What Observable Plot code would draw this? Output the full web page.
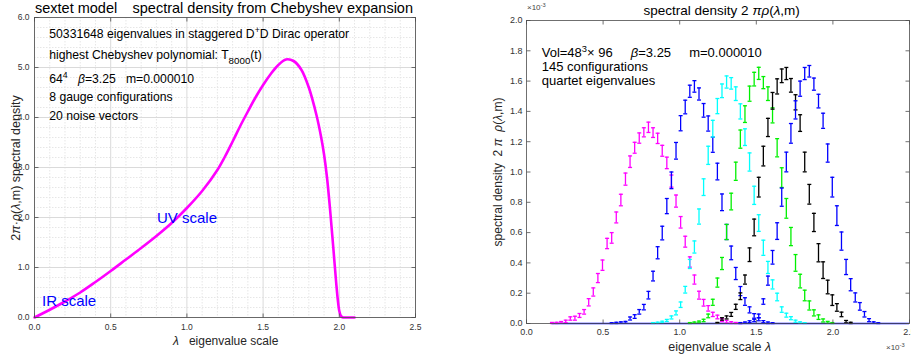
<!DOCTYPE html>
<html><head><meta charset="utf-8">
<script src="https://cdn.jsdelivr.net/npm/d3@7"></script>
<script src="https://cdn.jsdelivr.net/npm/@observablehq/plot@0.6"></script>
<style>
body{margin:0;background:#fff;}
#wrap{position:relative;width:911px;height:363px;overflow:hidden;background:#fff;}
#wrap svg{position:absolute;top:0;overflow:hidden;}
</style></head><body><div id="wrap"></div>
<script>
// ---------------- left panel data (Chebyshev spectral density) ----------------
const chebLambda = [0,0.1,0.2,0.3,0.4,0.5,0.6,0.7,0.8,0.9,1.0,1.1,1.2,1.25,1.3,1.35,1.4,1.45,1.5,1.55,1.6,1.65,1.7,1.75,1.8,1.85,1.88,1.9,1.92,1.94,1.96,1.98,1.99,2.0,2.01,2.02,2.05,2.1];
const chebRho    = [0,0.155,0.32,0.5,0.71,0.93,1.16,1.39,1.63,1.89,2.19,2.53,2.95,3.22,3.52,3.83,4.12,4.40,4.65,4.87,5.05,5.16,5.13,4.96,4.6,4.05,3.62,3.26,2.78,2.14,1.42,0.68,0.36,0.13,0.035,0.006,0,0];
const leftXTicks = [0,0.5,1,1.5,2,2.5];
const leftYTicks = [0,1,2,3,4,5,6];
const leftXMinor = [0.1,0.2,0.3,0.4,0.6,0.7,0.8,0.9,1.1,1.2,1.3,1.4,1.6,1.7,1.8,1.9,2.1,2.2,2.3,2.4];
const leftYMinor = [0.2,0.4,0.6,0.8,1.2,1.4,1.6,1.8,2.2,2.4,2.6,2.8,3.2,3.4,3.6,3.8,4.2,4.4,4.6,4.8,5.2,5.4,5.6,5.8];

// ---------------- right panel data (quartet eigenvalue histograms, units 1e-3) ----------------
const binCenters = [0.166,0.196,0.226,0.256,0.286,0.316,0.346,0.376,0.406,0.436,
  0.466,0.496,0.526,0.556,0.586,0.616,0.646,0.676,0.706,0.736,
  0.766,0.796,0.826,0.856,0.886,0.916,0.946,0.976,1.006,1.036,
  1.066,1.096,1.126,1.156,1.186,1.216,1.246,1.276,1.306,1.336,
  1.366,1.396,1.426,1.456,1.486,1.516,1.546,1.576,1.606,1.636,
  1.666,1.696,1.726,1.756,1.786,1.816,1.846,1.876,1.906,1.936,
  1.966,1.996,2.026,2.056,2.086,2.116,2.146,2.176,2.206,2.236,
  2.266,2.296];
const seriesNames  = ["q1","q2","q3","q4","q5","q6"];
const seriesColors = ["#ff00ff","#0000ff","#00ffff","#00f000","#000000","#0000ff"];
const seriesFirstBin = [0,13,22,30,36,41];
const q1Rho = [0.003,0.004,0.008,0.014,0.033,0.035,0.053,0.077,0.14,0.208,0.30,0.385,0.528,0.565,0.70,0.815,0.953,1.068,1.16,1.224,1.262,1.295,1.26,1.222,1.14,1.06,0.94,0.808,0.668,0.54,0.406,0.29,0.187,0.137,0.10,0.06,0.043,0.022,0.012,0.006,0.003,0.001];
const q1Err = [0.004,0.004,0.005,0.008,0.011,0.013,0.013,0.015,0.024,0.027,0.03,0.034,0.034,0.035,0.036,0.038,0.04,0.038,0.036,0.034,0.03,0.034,0.032,0.034,0.036,0.038,0.04,0.04,0.038,0.036,0.034,0.03,0.026,0.022,0.018,0.014,0.012,0.01,0.008,0.006,0.004,0.003];
const q2Rho = [0.002,0.004,0.006,0.008,0.033,0.046,0.077,0.108,0.187,0.313,0.467,0.597,0.775,0.945,1.14,1.322,1.429,1.533,1.565,1.515,1.407,1.32,1.18,1.003,0.80,0.604,0.466,0.33,0.214,0.145,0.09,0.05,0.028,0.012,0.005,0.002];
const q2Err = [0.003,0.004,0.005,0.006,0.01,0.012,0.015,0.018,0.025,0.032,0.04,0.045,0.05,0.055,0.055,0.05,0.045,0.04,0.038,0.04,0.045,0.05,0.05,0.055,0.055,0.05,0.045,0.04,0.03,0.025,0.02,0.015,0.01,0.007,0.005,0.003];
const q3Rho = [0.003,0.005,0.01,0.02,0.04,0.07,0.124,0.223,0.393,0.505,0.706,0.90,1.11,1.286,1.435,1.536,1.594,1.585,1.517,1.40,1.23,1.066,0.846,0.663,0.50,0.37,0.258,0.175,0.092,0.055,0.035,0.015,0.006,0.002];
const q3Err = [0.003,0.004,0.005,0.007,0.01,0.013,0.018,0.022,0.03,0.04,0.05,0.055,0.06,0.055,0.05,0.045,0.04,0.038,0.045,0.05,0.055,0.06,0.06,0.055,0.05,0.04,0.03,0.025,0.018,0.013,0.01,0.007,0.005,0.003];
const q4Rho = [0.003,0.006,0.01,0.02,0.05,0.14,0.27,0.396,0.604,0.805,1.005,1.217,1.382,1.517,1.613,1.651,1.59,1.517,1.374,1.16,0.963,0.76,0.574,0.40,0.28,0.185,0.119,0.07,0.042,0.02,0.008,0.003];
const q4Err = [0.003,0.004,0.006,0.008,0.012,0.02,0.03,0.04,0.05,0.055,0.06,0.06,0.055,0.05,0.045,0.04,0.04,0.045,0.05,0.06,0.065,0.065,0.06,0.055,0.045,0.035,0.03,0.02,0.015,0.01,0.006,0.003];
const q5Rho = [0.004,0.03,0.04,0.06,0.11,0.18,0.29,0.454,0.634,0.90,1.105,1.294,1.47,1.565,1.635,1.65,1.572,1.46,1.323,1.066,0.853,0.667,0.467,0.352,0.241,0.154,0.106,0.06,0.012,0.004];
const q5Err = [0.003,0.008,0.01,0.013,0.017,0.022,0.03,0.045,0.055,0.065,0.065,0.06,0.055,0.05,0.045,0.04,0.045,0.05,0.055,0.065,0.065,0.06,0.06,0.055,0.045,0.035,0.025,0.015,0.008,0.004];
const q6Rho = [0.003,0.006,0.012,0.02,0.05,0.145,0.283,0.437,0.61,0.834,1.066,1.255,1.41,1.55,1.65,1.665,1.58,1.468,1.338,1.125,0.90,0.712,0.544,0.373,0.256,0.172,0.113,0.061,0.022,0.006,0.002];
const q6Err = [0.003,0.004,0.006,0.008,0.012,0.018,0.03,0.045,0.055,0.06,0.065,0.065,0.06,0.05,0.04,0.038,0.04,0.045,0.05,0.06,0.065,0.065,0.06,0.05,0.04,0.03,0.025,0.018,0.01,0.005,0.003];
const rightXTicks = [0,0.5,1,1.5,2,2.5];
const rightYTicks = [0,0.2,0.4,0.6,0.8,1,1.2,1.4,1.6,1.8,2];

// ---------------- helpers ----------------
const FONT = '"Liberation Sans", Arial, Helvetica, sans-serif';
const AX = "#4d4d4d";
const TXT = "#262626";
const tickUp = {draw(c){c.moveTo(0,0);c.lineTo(0,-4);}};
const tickDown = {draw(c){c.moveTo(0,0);c.lineTo(0,4);}};
const tickRight = {draw(c){c.moveTo(0,0);c.lineTo(4,0);}};
const tickLeft = {draw(c){c.moveTo(0,0);c.lineTo(-4,0);}};
const capSym = {draw(c){c.moveTo(-2,0);c.lineTo(2,0);}};

function boxTicks(xt, yt) {
  const o = {stroke: AX, fill: "none", strokeWidth: 0.8};
  return [
    Plot.dot(xt, {x: d => d, frameAnchor: "bottom", symbol: tickUp, ...o}),
    Plot.dot(xt, {x: d => d, frameAnchor: "top", symbol: tickDown, ...o}),
    Plot.dot(yt, {y: d => d, frameAnchor: "left", symbol: tickRight, ...o}),
    Plot.dot(yt, {y: d => d, frameAnchor: "right", symbol: tickLeft, ...o})
  ];
}

function addText(svg, x, y, parts, {size = 12, anchor = "start", color = "#000", rotate = 0} = {}) {
  const t = d3.select(svg).append("text")
    .attr("transform", `translate(${x},${y})` + (rotate ? ` rotate(${rotate})` : ""))
    .attr("font-family", FONT).attr("font-size", size).attr("fill", color)
    .attr("text-anchor", anchor).style("white-space", "pre");
  let shift = 0;
  for (const p of parts) {
    const [str, kind] = typeof p === "string" ? [p, ""] : p;
    let target = 0, fs = size, st = "normal";
    if (kind === "sup") { target = -0.4 * size; fs = 0.72 * size; }
    if (kind === "sub") { target = 0.38 * size; fs = 0.8 * size; }
    if (kind === "it") st = "italic";
    t.append("tspan").text(str).attr("dy", target - shift).attr("font-size", fs).attr("font-style", st);
    shift = target;
  }
}

// ---------------- left panel ----------------
const cheb = chebLambda.map((l, i) => ({lambda: l, rho: chebRho[i]}));
const left = Plot.plot({
  width: 455, height: 363,
  marginLeft: 34, marginRight: 40, marginTop: 17, marginBottom: 46,
  x: {domain: [0, 2.5], label: null},
  y: {domain: [0, 6], label: null},
  style: {fontFamily: FONT, fontSize: "8.5px", color: "#333", background: "white"},
  marks: [
    Plot.gridX(leftXMinor, {stroke: "#e6e6e6", strokeOpacity: 1, strokeDasharray: "1.5,1.5"}),
    Plot.gridY(leftYMinor, {stroke: "#e6e6e6", strokeOpacity: 1, strokeDasharray: "1.5,1.5"}),
    Plot.gridX(leftXTicks, {stroke: "#dadada", strokeOpacity: 1}),
    Plot.gridY(leftYTicks, {stroke: "#dadada", strokeOpacity: 1}),
    Plot.line(cheb, {x: "lambda", y: "rho", stroke: "#ff00ff", strokeWidth: 2.6, curve: "catmull-rom"}),
    Plot.frame({stroke: AX, strokeWidth: 0.8}),
    ...boxTicks(leftXTicks, leftYTicks),
    Plot.axisX(leftXTicks, {tickSize: 0, tickPadding: 6, label: null}),
    Plot.axisY(leftYTicks, {tickSize: 0, tickPadding: 5, label: null})
  ]
});
left.style.left = "0px";

// ---------------- right panel ----------------
const rhoArrays = [q1Rho, q2Rho, q3Rho, q4Rho, q5Rho, q6Rho];
const errArrays = [q1Err, q2Err, q3Err, q4Err, q5Err, q6Err];
const rows = [];
seriesNames.forEach((name, s) => {
  rhoArrays[s].forEach((v, i) => {
    const e = errArrays[s][i];
    rows.push({series: name, x: binCenters[seriesFirstBin[s] + i], rho: v, lo: Math.max(0, v - e), hi: v + e});
  });
});
const barMarks = [];
seriesNames.forEach((name, s) => {
  const d = rows.filter(r => r.series === name);
  const c = seriesColors[s];
  barMarks.push(
    Plot.ruleX(d, {x: "x", y1: "lo", y2: "hi", stroke: c, strokeWidth: 1.3}),
    Plot.dot(d, {x: "x", y: "lo", symbol: capSym, stroke: c, fill: "none", strokeWidth: 1.3}),
    Plot.dot(d, {x: "x", y: "hi", symbol: capSym, stroke: c, fill: "none", strokeWidth: 1.3})
  );
});
const right = Plot.plot({
  width: 451, height: 363,
  marginLeft: 66, marginRight: 2, marginTop: 20, marginBottom: 40,
  x: {domain: [0, 2.5], label: null},
  y: {domain: [0, 2], label: null},
  style: {fontFamily: FONT, fontSize: "9px", color: "#333", background: "white"},
  marks: [
    Plot.ruleY([0], {x1: binCenters[0], x2: rightXTicks[rightXTicks.length - 1], stroke: "#0000ff", strokeWidth: 1.5}),
    ...barMarks,
    Plot.frame({stroke: AX, strokeWidth: 0.8}),
    ...boxTicks(rightXTicks, rightYTicks),
    Plot.axisX(rightXTicks, {tickSize: 0, tickPadding: 5, label: null}),
    Plot.axisY(rightYTicks, {tickSize: 0, tickPadding: 4, label: null})
  ]
});
right.style.left = "460px";

const wrap = document.getElementById("wrap");
wrap.appendChild(left);
wrap.appendChild(right);

// ---------------- texts: left ----------------
addText(left, 35, 12.5, ["sextet model"], {size: 14.5});
addText(left, 413, 12.5, ["spectral density from Chebyshev expansion"], {size: 14.5, anchor: "end"});
addText(left, 49.3, 37.7, ["50331648 eigenvalues in staggered D", ["+", "sup"], "D Dirac operator"], {size: 12.2});
addText(left, 49.3, 59.3, ["highest Chebyshev polynomial: T", ["8000", "sub"], "(t)"], {size: 12.2});
addText(left, 49.3, 83, ["64", ["4", "sup"], "   ", ["β", "it"], "=3.25   m=0.000010"], {size: 12.2});
addText(left, 49.3, 100.7, ["8 gauge configurations"], {size: 12.2});
addText(left, 49.3, 120.3, ["20 noise vectors"], {size: 12.2});
addText(left, 157, 222.7, ["UV scale"], {size: 15, color: "#0000ff"});
addText(left, 42, 305.7, ["IR scale"], {size: 15, color: "#0000ff"});
addText(left, 20, 168, ["2", ["π", "it"], "·", ["ρ", "it"], "(", ["λ", "it"], ",m) spectral density"], {size: 12.5, anchor: "middle", rotate: -90, color: TXT});
addText(left, 173, 345, [["λ", "it"], "   eigenvalue scale"], {size: 12, color: TXT});

// ---------------- texts: right (svg offset 460) ----------------
const R = 460;
addText(right, 721.7 - R, 15, ["spectral density 2 ", ["π", "it"], ["ρ", "it"], "(", ["λ", "it"], ",m)"], {size: 13.5, anchor: "middle"});
addText(right, 527 - R, 10, ["×10", ["-3", "sup"]], {size: 8, color: "#444"});
addText(right, 886 - R, 350, ["×10", ["-3", "sup"]], {size: 8, color: "#444"});
addText(right, 541.7 - R, 57.3, ["Vol=48", ["3", "sup"], "× 96     ", ["β", "it"], "=3.25     m=0.000010"], {size: 13});
addText(right, 541.7 - R, 71, ["145 configurations"], {size: 13});
addText(right, 541.7 - R, 85, ["quartet eigenvalues"], {size: 13});
addText(right, 502 - R, 172, ["spectral density  2 ", ["π", "it"], "  ", ["ρ", "it"], "(", ["λ", "it"], ",m)"], {size: 12, anchor: "middle", rotate: -90, color: TXT});
addText(right, 668.3 - R, 351, ["eigenvalue scale ", ["λ", "it"]], {size: 12.5, color: TXT});
</script>
</body></html>
